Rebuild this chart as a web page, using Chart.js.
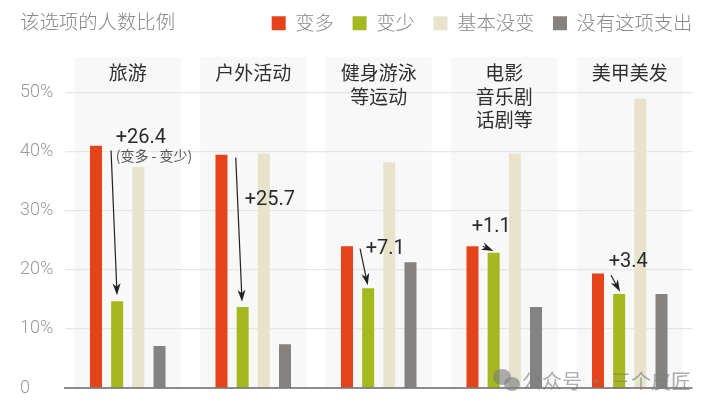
<!DOCTYPE html>
<html lang="zh">
<head>
<meta charset="utf-8">
<style>html,body{margin:0;padding:0;background:#fff}canvas{display:block}</style>
<script src="https://cdn.jsdelivr.net/npm/chart.js@4"></script>
</head>
<body>
<canvas id="c" width="714" height="410"></canvas>
<script>
const categories = [["旅游"],["户外活动"],["健身游泳","等运动"],["电影","音乐剧","话剧等"],["美甲美发"]];
const seriesNames = ["变多","变少","基本没变","没有这项支出"];
const seriesColors = ["#E5431A","#A5B91E","#E8E4CC","#858382"];
const more = [41,39.5,24,24,19.4];
const less = [14.7,13.7,16.9,22.9,15.9];
const same = [37.4,39.7,38.2,39.7,49];
const none = [7.1,7.4,21.3,13.7,15.9];
const titleText = "该选项的人数比例";
const diffLabels = ["+26.4","+25.7","+7.1","+1.1","+3.4"];
const diffNote = "(变多 - 变少)";
const watermark = "公众号 · 三个皮匠";
// label anchor: px offset from category centre, value on the y axis
const labelOffset = [-12,-8.5,-13,-32.5,-21];
const labelValue = [42.4,31.9,23.6,27.2,21.3];
const arrowFromOffset = [-16.7,-17.5,-18.7,-21.5,-18.7];
const arrowToOffset = [-10.7,-11.2,-11,-10.8,-9.7];
const arrowFromValue = [40.2,39,23.6,24,19.1];
const arrowToValue = [15.7,14.6,17.4,23.2,16.3];

const CJK = '"Noto Sans CJK SC","Noto Sans",sans-serif';
const NUM = 'Roboto,"Noto Sans CJK SC",sans-serif';

const decor = {
  id:'decor',
  afterLayout(chart){
    // the legend reserves one trailing gap; let its row reach the right edge
    if(chart.legend){
      chart.legend.right+=19.5;
      chart.legend.lineWidths[0]+=1;
    }
  },
  beforeDraw(chart){
    const {ctx,chartArea,scales:{x}}=chart;
    ctx.save();
    ctx.fillStyle='#F8F8F9';
    categories.forEach((_,i)=>{
      const c=x.getPixelForValue(i);
      ctx.fillRect(c-53,chartArea.top,106,chartArea.bottom-chartArea.top);
    });
    ctx.restore();
  },
  afterDatasetsDraw(chart){
    const {ctx,chartArea,scales:{x,y}}=chart;
    ctx.save();
    // baseline
    ctx.strokeStyle='#666';ctx.lineWidth=1.6;
    ctx.beginPath();ctx.moveTo(chartArea.left-1,y.getPixelForValue(0));ctx.lineTo(chartArea.right,y.getPixelForValue(0));ctx.stroke();
    // arrows
    ctx.strokeStyle='#222';ctx.fillStyle='#222';
    categories.forEach((_,i)=>{
      const c=x.getPixelForValue(i);
      const x0=c+arrowFromOffset[i],y0=y.getPixelForValue(arrowFromValue[i]);
      const x1=c+arrowToOffset[i],y1=y.getPixelForValue(arrowToValue[i]);
      const a=Math.atan2(y1-y0,x1-x0);
      ctx.lineWidth=1.2;
      ctx.beginPath();ctx.moveTo(x0,y0);ctx.lineTo(x1-6*Math.cos(a),y1-6*Math.sin(a));ctx.stroke();
      ctx.save();ctx.translate(x1,y1);ctx.rotate(a);
      ctx.beginPath();ctx.moveTo(0,0);ctx.lineTo(-12,-4);ctx.lineTo(-8.5,0);ctx.lineTo(-12,4);ctx.closePath();ctx.fill();
      ctx.restore();
    });
    // labels
    ctx.textBaseline='middle';ctx.textAlign='left';
    ctx.fillStyle='#2a2a2a';ctx.font='400 20px '+NUM;
    diffLabels.forEach((t,i)=>{
      ctx.fillText(t,x.getPixelForValue(i)+labelOffset[i],y.getPixelForValue(labelValue[i]));
    });
    ctx.fillStyle='#555';ctx.font='400 14px '+CJK;
    ctx.fillText(diffNote,x.getPixelForValue(0)+labelOffset[0],y.getPixelForValue(39.4));
    // watermark
    ctx.fillStyle='rgba(125,125,125,.62)';
    ctx.beginPath();ctx.ellipse(502,377,9,8,0,0,Math.PI*2);ctx.fill();
    ctx.beginPath();ctx.ellipse(512,384,8,7,0,0,Math.PI*2);ctx.fill();
    ctx.font='400 20px '+CJK;ctx.textAlign='right';
    ctx.fillText(watermark,691,381);
    ctx.restore();
  }
};

new Chart(document.getElementById('c'),{
  type:'bar',
  data:{labels:categories,datasets:[more,less,same,none].map((d,i)=>({
    label:seriesNames[i],data:d,backgroundColor:seriesColors[i],
    categoryPercentage:0.675,barPercentage:0.5666,borderWidth:0
  }))},
  plugins:[decor],
  options:{
    responsive:false,animation:false,
    layout:{padding:{left:20,right:21.5,top:-5.2,bottom:22}},
    plugins:{
      tooltip:{enabled:false},
      title:{display:true,text:titleText,align:'start',color:'#888',
        font:{family:CJK,size:19.4,weight:'300'},
        padding:{top:15.2,bottom:-38.5}},
      legend:{display:true,position:'top',align:'end',
        labels:{boxWidth:14,boxHeight:14,padding:18.7,color:'#888',font:{family:CJK,size:19.3,weight:'300'}}}
    },
    scales:{
      x:{position:'top',border:{display:false},grid:{display:false,drawTicks:false},
        afterFit(s){s.height=14.4;},
        ticks:{autoSkip:false,maxRotation:0,minRotation:0,mirror:true,crossAlign:'far',padding:-42,color:'#2f2f2f',
          font:{family:CJK,size:19,lineHeight:1.22}}},
      y:{min:0,max:56,border:{display:false},
        afterBuildTicks(s){s.ticks=s.ticks.filter(t=>t.value<=50);},
        afterFit(s){s.width=45;},
        grid:{color:c=>c.tick&&c.tick.value===0?'transparent':'#E6E6E6',lineWidth:1.2,drawTicks:false},
        ticks:{stepSize:10,crossAlign:'far',padding:0,color:'#999',
          font:{family:NUM,size:18,weight:'300'},
          callback:v=>v===0?'0':v+'%'}}
    }
  }
});
</script>
</body>
</html>
